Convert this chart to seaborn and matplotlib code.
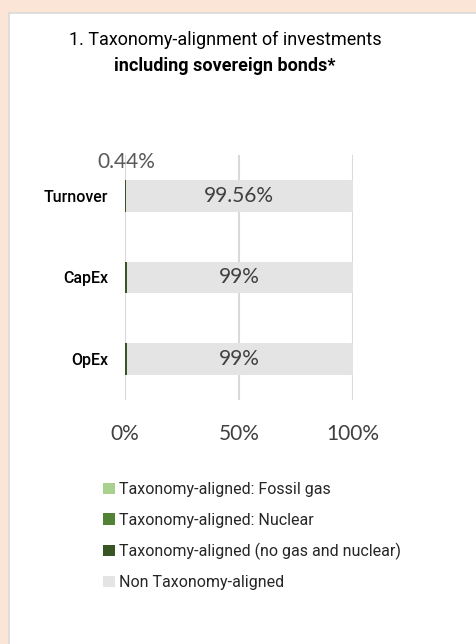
import matplotlib
matplotlib.use("Agg")
import matplotlib.pyplot as plt
import seaborn as sns
import pandas as pd
import numpy as np
from matplotlib.patches import Rectangle, Patch

categories = ["Turnover", "CapEx", "OpEx"]
fossil_gas = [0.0, 0.0, 0.0]
nuclear = [0.0, 0.0, 0.0]
aligned_other = [0.44, 1.0, 1.0]
non_aligned = [99.56, 99.0, 99.0]
bar_labels = ["99.56%", "99%", "99%"]
top_label = "0.44%"
series_names = ["Taxonomy-aligned: Fossil gas", "Taxonomy-aligned: Nuclear",
                "Taxonomy-aligned (no gas and nuclear)", "Non Taxonomy-aligned"]
colors = ["#A9D18E", "#548235", "#375623", "#E4E4E4"]
xticks = [0, 50, 100]
xticklabels = ["0%", "50%", "100%"]

sns.set_theme(style="white")
narrow = ["Roboto", "DejaVu Sans"]
numfont = ["Lato", "DejaVu Sans"]

fig = plt.figure(figsize=(4.77, 6.44), dpi=100)
fig.patch.set_facecolor("#FBE5D6")
fig.patches.append(Rectangle((9/477, -0.01), 1.0, 1 - 13/644 + 0.01, transform=fig.transFigure,
                             facecolor="white", edgecolor="#D9D9D9", linewidth=1.2, zorder=-5))

ax = fig.add_axes([125/477, 1 - 400/644, 228/477, 245/644])
ax.set_facecolor("none")
ax.set_zorder(2)

df = pd.DataFrame({"cat": categories, "gas": fossil_gas, "nuc": nuclear,
                   "al": aligned_other, "non": non_aligned})
df["c1"] = df["gas"]
df["c2"] = df["c1"] + df["nuc"]
df["c3"] = df["c2"] + df["al"]
df["c4"] = df["c3"] + df["non"]

for col, color in zip(["c4", "c3", "c2", "c1"], colors[::-1]):
    sns.barplot(data=df, x=col, y="cat", order=categories, color=color, ax=ax,
                width=0.39, linewidth=0, saturation=1, zorder=3)

ax.set_xlim(0, 100)
ax.set_ylim(2.5, -0.5)
ax.set_xticks(xticks)
ax.set_xticklabels(xticklabels, fontsize=15, color="#404040", family=numfont)
ax.tick_params(axis="x", length=0, pad=17)
ax.tick_params(axis="y", length=0, pad=12)
for t in ax.get_yticklabels():
    t.set_fontsize(11.5)
    t.set_family(narrow)
    t.set_fontweight("medium")
    t.set_color("black")
ax.set_xlabel("")
ax.set_ylabel("")
ax.grid(axis="x", color="#D9D9D9", linewidth=1.5, zorder=0)
ax.grid(axis="y", visible=False)
for s in ax.spines.values():
    s.set_visible(False)

for i, lab in enumerate(bar_labels):
    ax.text(50, i, lab, ha="center", va="center", fontsize=15, color="#404040",
            family=numfont, zorder=5)
ax.text(0.5, -0.41, top_label, ha="center", va="center", fontsize=15, color="#595959",
        family=numfont, zorder=5)

fig.text(225/477, 1 - 40/644, "1. Taxonomy-alignment of investments", ha="center", va="center",
         fontsize=13, family=narrow, color="black")
fig.text(225/477, 1 - 66/644, "including sovereign bonds*", ha="center", va="center",
         fontsize=13, family=narrow, fontweight="bold", color="black")

handles = [Patch(facecolor=c, edgecolor="none") for c in colors]
leg = fig.legend(handles, series_names, loc="upper left", bbox_to_anchor=(89/477, 1 - 468/644),
                 frameon=False, handlelength=0.7, handleheight=0.7, handletextpad=0.3,
                 labelspacing=0.95, prop={"family": narrow, "size": 11.5})

fig.savefig("out.png", dpi=100, facecolor=fig.get_facecolor())
